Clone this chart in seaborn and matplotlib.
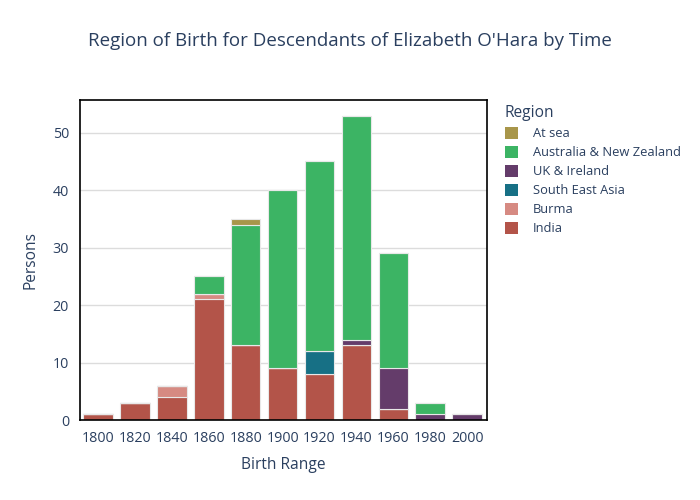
import numpy as np
import pandas as pd
import matplotlib
matplotlib.use("Agg")
import matplotlib.pyplot as plt
import seaborn as sns

years = [1800, 1820, 1840, 1860, 1880, 1900, 1920, 1940, 1960, 1980, 2000]
regions = ["At sea", "Australia & New Zealand", "UK & Ireland",
           "South East Asia", "Burma", "India"]
at_sea = [0, 0, 0, 0, 1, 0, 0, 0, 0, 0, 0]
aus_nz = [0, 0, 0, 3, 21, 31, 33, 39, 20, 2, 0]
uk_ireland = [0, 0, 0, 0, 0, 0, 0, 1, 7, 1, 1]
se_asia = [0, 0, 0, 0, 0, 0, 4, 0, 0, 0, 0]
burma = [0, 0, 2, 1, 0, 0, 0, 0, 0, 0, 0]
india = [1, 3, 4, 21, 13, 9, 8, 13, 2, 0, 0]
colors = ["#a8964a", "#3cb464", "#643c6a", "#177085", "#d68a82", "#b35449"]

series = dict(zip(regions, [at_sea, aus_nz, uk_ireland, se_asia, burma, india]))
rows = []
for r, vals in series.items():
    for y, v in zip(years, vals):
        rows.append({"Birth Range": y, "Region": r, "Persons": v})
df = pd.DataFrame(rows)

sns.set_style("white")
txt = "#2a3f5f"
plt.rcParams["font.family"] = ["Open Sans", "DejaVu Sans"]
plt.rcParams["text.color"] = txt
plt.rcParams["axes.labelcolor"] = txt
plt.rcParams["xtick.color"] = txt
plt.rcParams["ytick.color"] = txt

fig = plt.figure(figsize=(7, 5), dpi=100)
ax = fig.add_axes([80 / 700, 80 / 500, 407 / 700, 320 / 500])

sns.histplot(data=df, x="Birth Range", weights="Persons", hue="Region",
             hue_order=regions, palette=dict(zip(regions, colors)),
             multiple="stack", binwidth=20, binrange=(1790, 2010), shrink=0.8,
             alpha=1, edgecolor="#e8e8e8", linewidth=0.8, ax=ax)

ax.set_xlim(1790.2, 2010.8)
ax.set_ylim(0, 55.7)
ax.set_xticks(years)
ax.set_yticks([0, 10, 20, 30, 40, 50])
ax.yaxis.grid(True, color="#dcdcdc", linewidth=1)
ax.set_axisbelow(True)
for s in ax.spines.values():
    s.set_color("black")
    s.set_linewidth(1.2)
ax.tick_params(axis="x", length=5, color="black", labelsize=10.3, pad=3)
ax.tick_params(axis="y", length=5, color="#cccccc", labelsize=10.3, pad=3)
ax.set_xlabel("Birth Range", fontsize=11.2, labelpad=8)
ax.set_ylabel("Persons", fontsize=11.2, labelpad=10)

fig.suptitle("Region of Birth for Descendants of Elizabeth O'Hara by Time",
             x=0.5, y=0.935, fontsize=13.5, color=txt)

sns.move_legend(ax, "upper left", bbox_to_anchor=(1.015, 1.02), frameon=False,
                title="Region", fontsize=9.3, title_fontsize=11.2,
                handlelength=1.0, handleheight=1.0, handletextpad=1.2,
                labelspacing=0.45, alignment="left")
leg = ax.get_legend()
for h in leg.legend_handles:
    h.set_edgecolor("none")

fig.savefig("out.png", dpi=100)
